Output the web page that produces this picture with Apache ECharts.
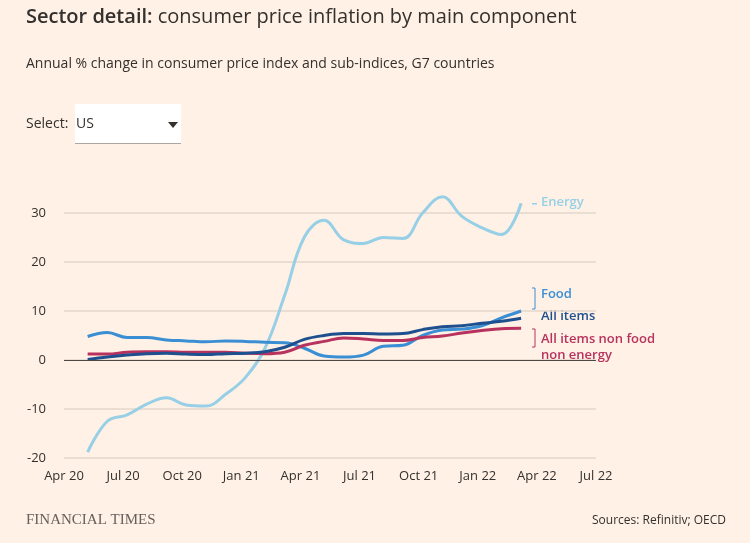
<!DOCTYPE html>
<html>
<head>
<meta charset="utf-8">
<script src="https://cdn.jsdelivr.net/npm/echarts@6/dist/echarts.min.js"></script>
<style>
  body { margin: 0; background: #fff1e5; }
  #chart { width: 750px; height: 543px; }
</style>
</head>
<body>
<div id="chart"></div>
<script>
// months from May 2020 to Mar 2022 (x = months after Apr 2020)
var months = ['2020-05','2020-06','2020-07','2020-08','2020-09','2020-10','2020-11','2020-12',
  '2021-01','2021-02','2021-03','2021-04','2021-05','2021-06','2021-07','2021-08','2021-09',
  '2021-10','2021-11','2021-12','2022-01','2022-02','2022-03'];
var xTickLabels = ['Apr 20','Jul 20','Oct 20','Jan 21','Apr 21','Jul 21','Oct 21','Jan 22','Apr 22','Jul 22'];

var energy = [-18.8,-12.5,-11.2,-9,-7.7,-9.2,-9.4,-7,-3.6,2.4,13.2,25.1,28.5,24.5,23.8,25,24.8,30,33.3,29.3,27,25.6,32];
var food = [4.8,5.6,4.6,4.6,4.1,3.9,3.7,3.9,3.8,3.6,3.5,2.4,0.8,0.6,1,2.8,3,5,6.1,6.3,7,8.6,10];
var allItems = [0.1,0.6,1,1.3,1.4,1.2,1.1,1.3,1.4,1.7,2.6,4.2,5,5.4,5.4,5.3,5.4,6.2,6.8,7,7.5,7.9,8.5];
var core = [1.2,1.2,1.6,1.7,1.7,1.6,1.6,1.6,1.4,1.3,1.6,3,3.8,4.5,4.3,4,4,4.6,4.9,5.5,6,6.4,6.5];

function pairs(values) {
  return values.map(function (v, i) { return [i + 1.2, v]; });
}

var chart = echarts.init(document.getElementById('chart'));

function line(name, values, color) {
  return {
    name: name, type: 'line', data: pairs(values), smooth: 0.4,
    showSymbol: false, clip: false, lineStyle: { color: color, width: 3 }
  };
}

var options = {
  backgroundColor: '#fff1e5',
  animation: false,
  grid: { left: 64, right: 154, top: 213, bottom: 85 },
  xAxis: {
    type: 'value', min: 0, max: 27, interval: 3,
    axisLine: { show: false },
    axisTick: { show: false },
    splitLine: { show: false },
    axisLabel: {
      margin: 12, color: '#33302e', fontSize: 13, fontFamily: 'Open Sans',
      formatter: function (v) { return xTickLabels[v / 3]; }
    }
  },
  yAxis: {
    type: 'value', min: -20, max: 30, interval: 10,
    axisLine: { show: false }, axisTick: { show: false },
    splitLine: { lineStyle: { color: '#e3d6cb', width: 1.5 } },
    axisLabel: { margin: 18, color: '#33302e', fontSize: 13, fontFamily: 'Open Sans' }
  },
  series: [
    line('Energy', energy, '#96cfe6'),
    line('Food', food, '#3a8fd4'),
    line('All items non food non energy', core, '#b8325e'),
    line('All items', allItems, '#1e4f8e'),
    {
      type: 'line', data: [], markLine: {
        silent: true, symbol: 'none', label: { show: false },
        lineStyle: { color: '#4d4845', width: 1.2, type: 'solid' },
        data: [{ yAxis: 0 }]
      }
    }
  ],
  graphic: [
    { type: 'text', left: 26, top: 7, style: { text: '{b|Sector detail:} consumer price inflation by main component',
      rich: { b: { fontWeight: 600, fontSize: 20, fill: '#33302e', fontFamily: 'Open Sans' } },
      fontSize: 20, fill: '#33302e', fontFamily: 'Open Sans' } },
    { type: 'text', left: 26, top: 57, style: { text: 'Annual % change in consumer price index and sub-indices, G7 countries',
      fontSize: 14, fill: '#33302e', fontFamily: 'Open Sans' } },
    { type: 'text', left: 26, top: 117, style: { text: 'Select:', fontSize: 14, fill: '#33302e', fontFamily: 'Open Sans' } },
    { type: 'rect', left: 75, top: 104, shape: { width: 106, height: 40 }, style: { fill: '#ffffff' } },
    { type: 'rect', left: 75, top: 143, shape: { width: 106, height: 1 }, style: { fill: '#b0a69e' } },
    { type: 'text', left: 76, top: 117, style: { text: 'US', fontSize: 14, fill: '#33302e', fontFamily: 'Open Sans' } },
    { type: 'polygon', shape: { points: [[168, 122], [178, 122], [173, 128]] }, style: { fill: '#33302e' } },
    // series labels
    { type: 'text', left: 541, top: 196, style: { text: 'Energy', fontSize: 13, fontWeight: 600, fill: '#96cfe6', fontFamily: 'Open Sans' } },
    { type: 'rect', left: 532, top: 203, shape: { width: 5, height: 1.5 }, style: { fill: '#96cfe6' } },
    { type: 'text', left: 541, top: 288, style: { text: 'Food', fontSize: 13, fontWeight: 600, fill: '#3a8fd4', fontFamily: 'Open Sans' } },
    { type: 'polyline', shape: { points: [[532, 288], [535, 288], [535, 309], [532, 309]] }, style: { stroke: '#3a8fd4', fill: null, lineWidth: 1 } },
    { type: 'text', left: 541, top: 310, style: { text: 'All items', fontSize: 13, fontWeight: 600, fill: '#1e4f8e', fontFamily: 'Open Sans' } },
    { type: 'text', left: 541, top: 331, style: { text: 'All items non food\nnon energy', fontSize: 13, fontWeight: 600, lineHeight: 16, fill: '#b8325e', fontFamily: 'Open Sans' } },
    { type: 'polyline', shape: { points: [[532, 329], [535, 329], [535, 347], [532, 347]] }, style: { stroke: '#b8325e', fill: null, lineWidth: 1 } },
    { type: 'text', left: 26, top: 513, style: { text: 'FINANCIAL TIMES', fontSize: 15, fill: '#66605c', fontFamily: 'Liberation Serif' } },
    { type: 'text', right: 24, top: 515, style: { text: 'Sources: Refinitiv; OECD', fontSize: 12, fill: '#33302e', fontFamily: 'Open Sans' } }
  ]
};

chart.setOption(options);
</script>
</body>
</html>
